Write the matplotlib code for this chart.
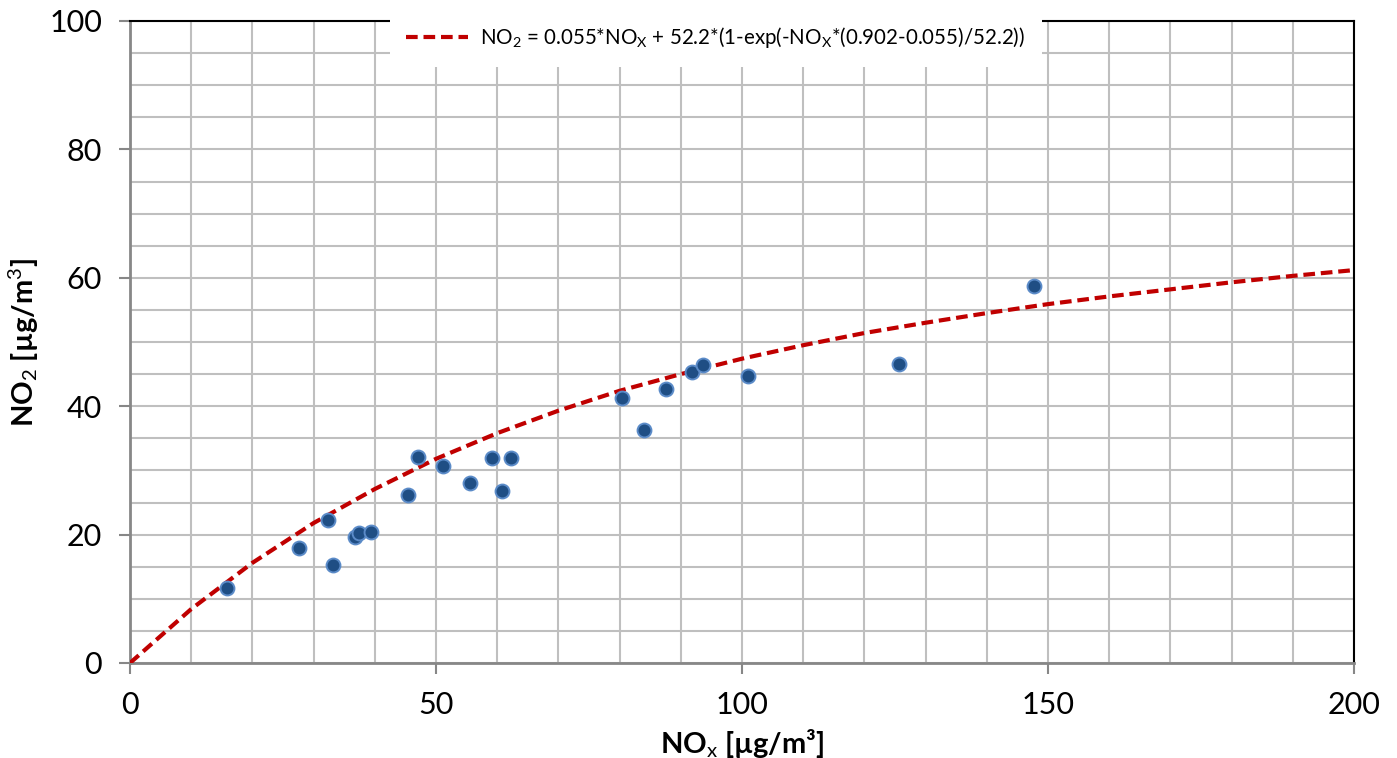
import matplotlib
matplotlib.use("Agg")
import matplotlib.pyplot as plt
from matplotlib.ticker import MultipleLocator

plt.rcParams['font.family'] = ['Lato', 'DejaVu Sans']
plt.rcParams['mathtext.fontset'] = 'custom'
plt.rcParams['mathtext.rm'] = 'Lato'
plt.rcParams['mathtext.it'] = 'Lato:italic'
plt.rcParams['mathtext.bf'] = 'Lato:bold'

# measured points
nox = [15.8, 27.6, 32.4, 33.2, 36.8, 37.4, 39.4, 45.4, 47.1, 51.1, 55.6, 59.2,
       60.8, 62.3, 80.4, 84.0, 87.6, 91.8, 93.6, 101.0, 125.7, 147.7]
no2 = [11.7, 17.9, 22.3, 15.3, 19.6, 20.2, 20.4, 26.2, 32.1, 30.7, 28.0, 31.9,
       26.8, 31.9, 41.3, 36.3, 42.7, 45.3, 46.4, 44.7, 46.6, 58.7]

# fitted curve
fit_x = [0, 10, 20, 30, 40, 50, 60, 70, 80, 90, 100, 110, 120, 130, 140, 150,
         160, 170, 180, 190, 200]
fit_y = [0.0, 8.4, 15.6, 21.8, 27.1, 31.8, 35.8, 39.3, 42.4, 45.0, 47.4, 49.5,
         51.4, 53.0, 54.5, 55.9, 57.1, 58.2, 59.3, 60.3, 61.2]

legend_label = (r"NO$_2$ = 0.055*NO$_\mathrm{X}$ + 52.2*(1-exp(-NO$_\mathrm{X}$"
                r"*(0.902-0.055)/52.2))")

fig = plt.figure(figsize=(13.97, 7.58), dpi=100)
ax = fig.add_axes([130/1397, 1-663/758, 1224/1397, 642/758])

ax.plot(fit_x, fit_y, color='#C00000', lw=3.0, ls=(0, (2.8, 1.4)),
        label=legend_label, zorder=3, dash_capstyle='butt')
ax.scatter(nox, no2, s=100, color='#1F4E84', edgecolors='#5B8BC8',
           linewidths=1.4, zorder=4)

ax.set_xlim(0, 200)
ax.set_ylim(0, 100)
ax.xaxis.set_major_locator(MultipleLocator(50))
ax.xaxis.set_minor_locator(MultipleLocator(10))
ax.yaxis.set_major_locator(MultipleLocator(20))
ax.yaxis.set_minor_locator(MultipleLocator(5))
ax.grid(True, which='both', color='#BFBFBF', lw=1.5, zorder=0)
ax.set_axisbelow(True)

for s in ['left', 'bottom']:
    ax.spines[s].set_color('#878787')
    ax.spines[s].set_linewidth(2)
for s in ['top', 'right']:
    ax.spines[s].set_color('black')
    ax.spines[s].set_linewidth(1.5)

ax.tick_params(which='major', direction='out', length=8, width=1.5,
               color='#878787', labelsize=22, pad=12)
ax.tick_params(which='minor', length=0)

ax.set_xlabel(r"NO$_\mathrm{x}$ [µg/m³]", fontsize=21, fontweight='bold',
              labelpad=6)
ax.set_ylabel(r"NO$_\mathrm{2}$ [µg/m$^\mathrm{3}$]", fontsize=21,
              fontweight='bold', labelpad=6)

leg = ax.legend(loc='center', bbox_to_anchor=(716/1397, 1-38/758),
                bbox_transform=fig.transFigure, frameon=True, fontsize=14.8,
                handlelength=3.0, handletextpad=0.6, borderpad=0.8,
                fancybox=False)
leg.get_frame().set_facecolor('white')
leg.get_frame().set_edgecolor('none')
leg.get_frame().set_alpha(1)
leg.set_zorder(10)

fig.savefig('out.png', dpi=100)
